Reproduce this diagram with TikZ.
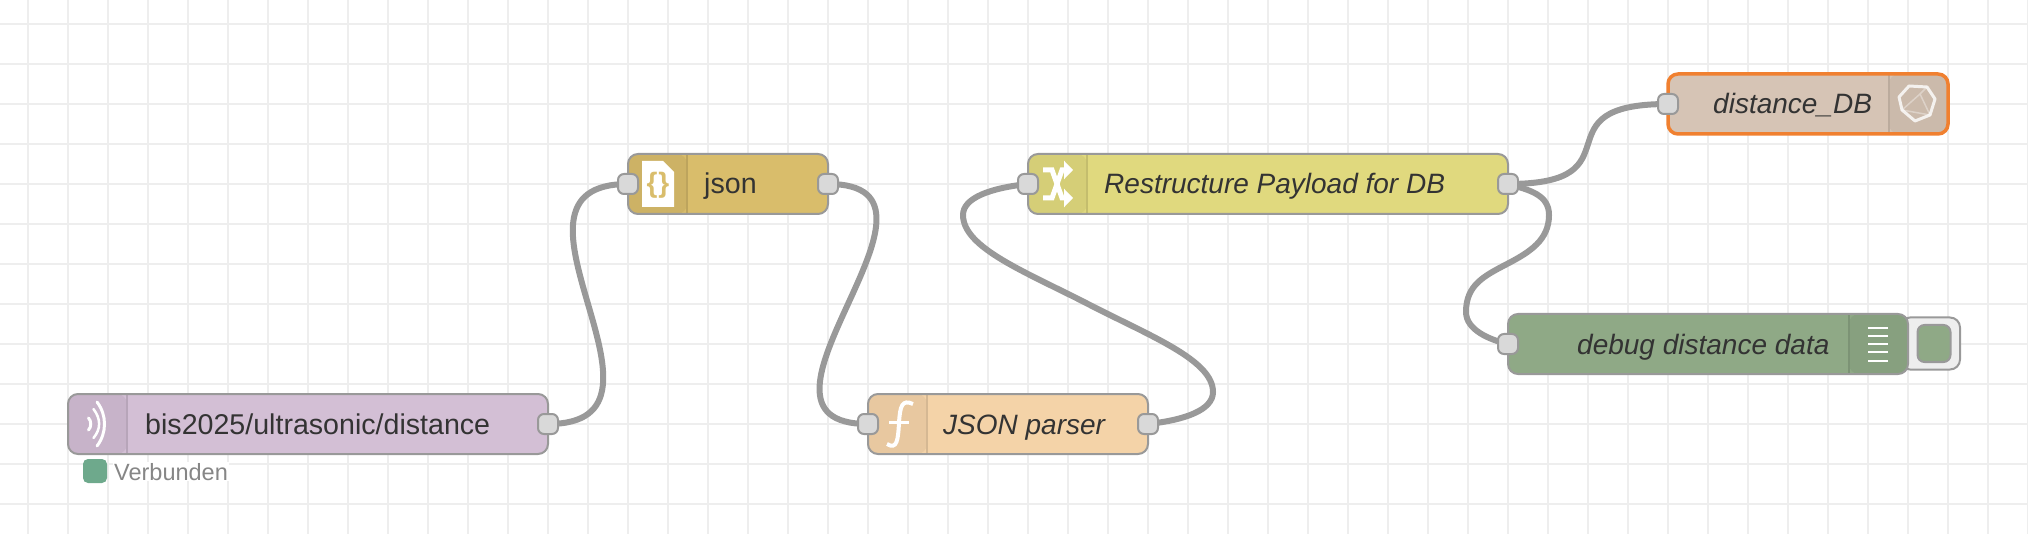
\documentclass[tikz,border=0pt]{standalone}
\usepackage{fontspec}
\setmainfont{Liberation Sans}
\usetikzlibrary{arrows.meta}
\definecolor{gridline}{HTML}{EEEEEE}
\definecolor{wirecol}{HTML}{999999}
\definecolor{portbg}{HTML}{D9D9D9}
\definecolor{labelcol}{HTML}{333333}
\definecolor{mqttbg}{HTML}{D3BFD5}
\definecolor{mqttshade}{HTML}{C7B3C9}
\definecolor{jsonbg}{HTML}{D9BD6B}
\definecolor{jsonshade}{HTML}{CDB265}
\definecolor{funcbg}{HTML}{F4D3A8}
\definecolor{funcshade}{HTML}{E8C8A0}
\definecolor{changebg}{HTML}{E0D97E}
\definecolor{changeshade}{HTML}{D5CE77}
\definecolor{dbbg}{HTML}{D6C4B5}
\definecolor{dbshade}{HTML}{CBBAAB}
\definecolor{debugbg}{HTML}{8FA986}
\definecolor{debugshade}{HTML}{87A07F}
\definecolor{selected}{HTML}{F08030}
\definecolor{statusok}{HTML}{6EA98C}
\tikzset{
  flow node/.style={
    rectangle,
    draw=wirecol,
    line width=2,
    rounded corners=10,
    minimum height=60,
    inner sep=0,
    outer sep=0
  },
  left shade/.style={
    path picture={
      \fill[#1] (path picture bounding box.north west) rectangle ++(59,60);
      \draw[#1!92!black, line width=1.5] ([xshift=59]path picture bounding box.north west) -- ++(0,60);
    }
  },
  right shade/.style={
    path picture={
      \fill[#1] (path picture bounding box.north east) rectangle ++(-59,60);
      \draw[#1!92!black, line width=1.5] ([xshift=-59]path picture bounding box.north east) -- ++(0,60);
    }
  },
  port/.style={
    rectangle,
    draw=wirecol,
    fill=portbg,
    line width=2,
    rounded corners=6,
    minimum size=20,
    inner sep=0
  },
  wire/.style={draw=wirecol, line width=6},
  flow label/.style={
    anchor=base west,
    inner sep=0,
    text=labelcol,
    font=\fontsize{28.6}{32}\selectfont
  },
  flow italic/.style={
    flow label,
    font=\fontsize{28}{32}\selectfont\itshape
  },
  icon line/.style={draw=white, line width=3, line cap=round}
}

\begin{document}
\begin{tikzpicture}[x=1pt, y=-1pt]
  \useasboundingbox (0,0) rectangle (2028,534);
  % Grid
  \foreach \gx in {0,...,50} {
    \draw[gridline, line width=2] ({28+40*\gx},0) -- ({28+40*\gx},534);
  }
  \foreach \gy in {0,...,12} {
    \draw[gridline, line width=2] (0,{24+40*\gy}) -- (2028,{24+40*\gy});
  }

  % Nodes
  \node[flow node, fill=mqttbg, left shade=mqttshade, minimum width=480] (bis) at (308,424) {};
  \node[flow node, fill=jsonbg, left shade=jsonshade, minimum width=200] (json) at (728,184) {};
  \node[flow node, fill=funcbg, left shade=funcshade, minimum width=280] (parser) at (1008,424) {};
  \node[flow node, fill=changebg, left shade=changeshade, minimum width=480] (restructure) at (1268,184) {};
  \node[flow node, draw=selected, line width=3.5, fill=dbbg, right shade=dbshade, minimum width=280] (db) at (1808,104) {};
  \node[rectangle, draw=wirecol, fill=gridline, line width=2, rounded corners=10, minimum width=60, minimum height=52] (button) at (1930,343.5) {};
  \node[rectangle, draw=wirecol, fill=debugbg, line width=2, rounded corners=7, minimum width=33, minimum height=37] (toggle) at (1934,343.5) {};
  \node[flow node, fill=debugbg, right shade=debugshade, minimum width=400] (debug) at (1708,344) {};

  % Labels
  \node[flow label] (bistext) at (145,434) {bis2025/ultrasonic/distance};
  \node[flow label] (jsontext) at (704,194) {json};
  \node[flow italic] (parsertext) at (943,434) {JSON parser};
  \node[flow italic] (restructuretext) at (1104,194) {Restructure Payload for DB};
  \node[flow italic] (dbtext) at (1713,114) {distance\_DB};
  \node[flow italic] (debugtext) at (1577,354) {debug distance data};

  % Status
  \node[rectangle, fill=statusok, rounded corners=5, minimum size=24, inner sep=0] (status) at (95,471) {};
  \node[anchor=base west, fill=white, inner sep=1, text=gray!95, font=\fontsize{23.5}{26}\selectfont] (statustext) at (113,480) {Verbunden};

  % Wires
  \draw[wire] (bis.east) .. controls +(150,0) and +(-150,0) .. (json.west);
  \draw[wire] (json.east) .. controls +(150,0) and +(-150,0) .. (parser.west);
  \draw[wire] (parser.east) .. controls (1185,420) and (1213,410) .. (1213,392)
    .. controls (1213,360) and (1150,336) .. (1088,304)
    .. controls (1026,272) and (963,248) .. (963,215)
    .. controls (963,198) and (990,188) .. (restructure.west);
  \draw[wire] (restructure.east) .. controls +(134,0) and +(-134,0) .. (db.west);
  \draw[wire] (restructure.east) .. controls (1530,190) and (1549,195) .. (1549,215)
    .. controls (1549,240) and (1530,252) .. (1507,264)
    .. controls (1484,276) and (1466,285) .. (1466,312)
    .. controls (1466,330) and (1490,340) .. (debug.west);

  % Ports
  \node[port] (bisout) at (bis.east) {};
  \node[port] (jsonin) at (json.west) {};
  \node[port] (jsonout) at (json.east) {};
  \node[port] (parserin) at (parser.west) {};
  \node[port] (parserout) at (parser.east) {};
  \node[port] (restructurein) at (restructure.west) {};
  \node[port] (restructureout) at (restructure.east) {};
  \node[port] (dbin) at (db.west) {};
  \node[port] (debugin) at (debug.west) {};

  % Icons
  \draw[icon line] (97,402) .. controls (107,415) and (107,433) .. (97,446);
  \draw[icon line, line width=2.5] (93.5,409) .. controls (101,419) and (101,429) .. (93.5,438);
  \draw[icon line] (88.5,418) .. controls (91.5,421) and (91.5,427) .. (88.5,430);

  \fill[white] (642,161) -- (663,161) -- (674,172) -- (674,207) -- (642,207) -- cycle;
  \node[text=jsonbg, inner sep=0, font=\fontsize{28}{30}\selectfont\bfseries] (jsonicon) at (658,185) {\{\kern1pt\}};

  \draw[icon line, line width=4, line cap=butt] (913,404) .. controls (902,399) and (900,406) .. (899,423)
    .. controls (898,440) and (897,450) .. (887,444);
  \draw[icon line, line cap=butt] (889,422) -- (909,422);

  \draw[draw=white, line width=5, -{Triangle[length=9,width=18]}] (1043,170) -- (1052,170) -- (1062,198) -- (1073,198);
  \draw[draw=white, line width=5, -{Triangle[length=9,width=18]}] (1043,198) -- (1052,198) -- (1062,170) -- (1073,170);

  \draw[draw=white, line width=3, line join=round, opacity=.8] (1909,86) -- (1927,87) -- (1935,99) -- (1930,115) -- (1915,121) -- (1902,110) -- (1899,97) -- cycle;
  \draw[draw=white, line width=1.5, opacity=.35] (1902,110) -- (1920,94) -- (1930,115) -- cycle (1920,94) -- (1927,87);

  \foreach \by in {328,336,344,352,361} {
    \draw[white, line width=2.4] (1868,\by) -- (1888,\by);
  }
\end{tikzpicture}
\end{document}
